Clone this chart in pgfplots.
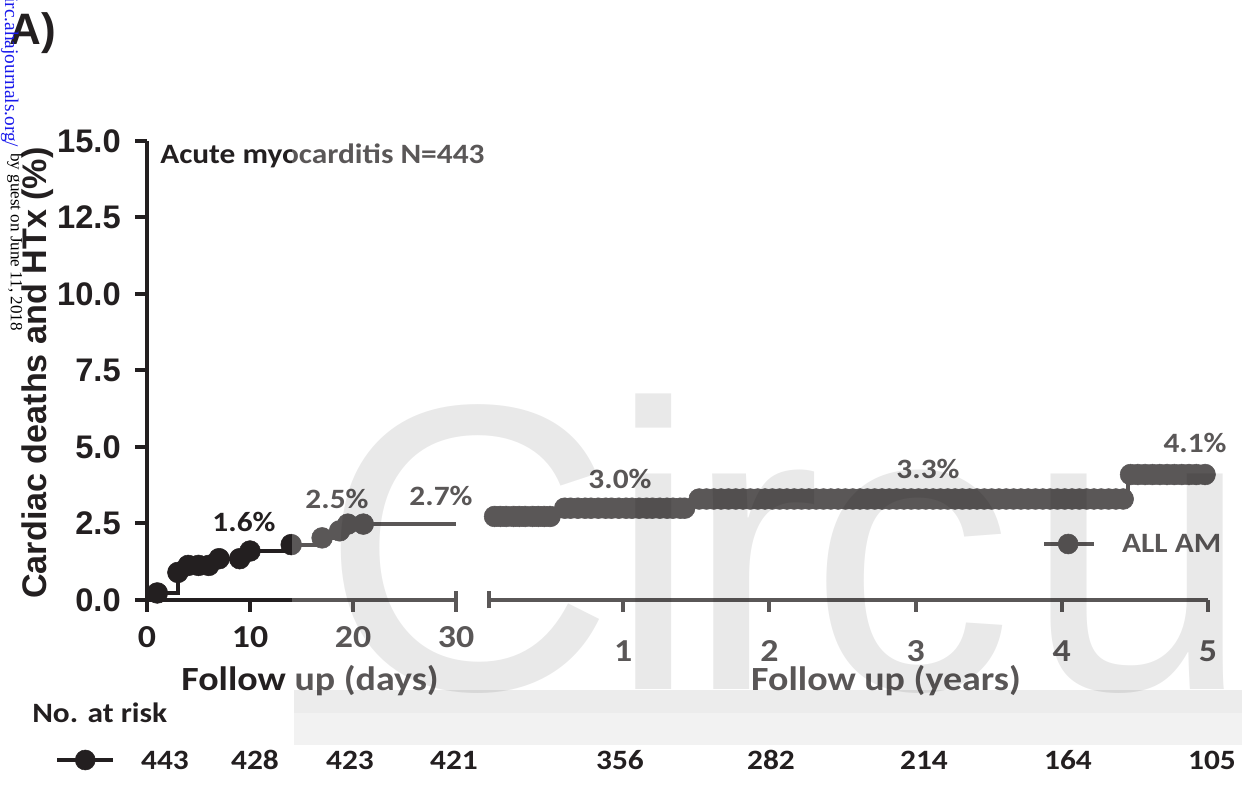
\documentclass[border=0pt]{standalone}
\usepackage{fontspec}
\usepackage{pgfplots}
\pgfplotsset{compat=1.18}
\setmainfont{Liberation Sans}
\newfontfamily\calX{Carlito}[FakeStretch=1.12]
\newfontfamily\arialN{Liberation Sans}
\newfontfamily\serifN{Liberation Serif}
\definecolor{ink}{RGB}{35,31,32}
\definecolor{linkblue}{RGB}{25,25,235}
\newcommand\fYT{\arialN\bfseries\fontsize{24.5}{29}\selectfont}
\newcommand\fYL{\arialN\bfseries\fontsize{25.6}{30}\selectfont}
\newcommand\fXT{\calX\bfseries\fontsize{24}{29}\selectfont}
\newcommand\fAT{\calX\bfseries\fontsize{25.4}{30}\selectfont}
\newcommand\fSm{\calX\bfseries\fontsize{21}{25}\selectfont}
\newcommand\fWM{\arialN\fontsize{306}{320}\selectfont}
\pgfplotsset{myax/.style={
  scale only axis, height=344.25pt, ymin=0, ymax=15, clip=false,
  axis line style={line width=3pt, draw=ink},
  tick style={line width=3pt, draw=ink},
  tick align=outside, major tick length=9pt,
  /pgf/number format/assume math mode=true,
  xticklabel style={font=\fXT, text=ink, inner sep=0pt, anchor=north},
  yticklabel style={font=\fYT, text=ink, inner sep=0pt, anchor=east},
}}
\begin{document}
\begin{tikzpicture}[x=0.75pt,y=0.75pt]
\useasboundingbox (0,0) rectangle (1242,787);
\begin{scope}
\clip (0,0) rectangle (1242,787);
% ---------- left panel (days)
\begin{axis}[myax, at={(110.25pt,140.25pt)}, anchor=south west, width=231.75pt,
  xmin=0, xmax=30,
  axis x line*=bottom, axis y line*=left,
  xtick={0,10,20,30}, xticklabels={0,10,20,30},
  ytick={0,2.5,5,7.5,10,12.5,15}, yticklabels={0.0,2.5,5.0,7.5,10.0,12.5,15.0},
  extra x ticks={30}, extra x tick labels={},
  extra x tick style={tick align=center, major tick length=12.75pt},
  xticklabel style={yshift=-10.5pt},
  yticklabel style={xshift=-10.5pt},
  legend image code/.code={\draw[line width=3pt,#1] (0pt,0pt) -- (42pt,0pt); \fill[#1] (21pt,0pt) circle (7.5pt);},
  legend style={at={(-0.2977,-0.3486)}, anchor=west, draw=none, fill=none, inner sep=0pt, nodes={inner sep=0pt}},
]
\addlegendimage{ink}
\addlegendentry{}
\addplot[const plot, draw=ink, line width=3pt] coordinates {
 (0,0) (1,0.23) (3,0.90) (4,1.13) (7,1.35) (10,1.60) (14,1.81) (17,2.03) (18.7,2.26) (19.5,2.48) (30,2.48)};
\addplot[only marks, mark=*, mark size=7.8pt, color=ink, fill=ink] coordinates {
 (1,0.23) (3,0.90) (4,1.13) (5,1.13) (6,1.13) (7,1.35) (9,1.35) (10,1.60) (14,1.81) (17,2.03) (18.7,2.26) (19.5,2.48) (21,2.48)};
\end{axis}
% ---------- right panel (years)
\begin{axis}[myax, at={(366.75pt,140.25pt)}, anchor=south west, width=539.25pt,
  xmin=0.0822, xmax=5,
  axis x line*=bottom, axis y line=none, ytick=\empty,
  xtick={1,2,3,4,5}, xticklabels={1,2,3,4,5},
  extra x ticks={0.0822}, extra x tick labels={},
  extra x tick style={tick align=center, major tick length=12.75pt},
  xticklabel style={yshift=-21pt},
  legend image code/.code={\draw[line width=3pt,#1] (0pt,0pt) -- (37.5pt,0pt); \fill[#1] (18pt,0pt) circle (7.5pt);},
  legend style={at={(0.769,0.122)}, anchor=west, draw=none, fill=none, inner sep=0pt, nodes={inner sep=0pt}, font=\fSm, text=ink},
]
\addlegendimage{ink}
\addlegendentry{\hspace*{19.5pt}ALL AM}
\addplot[const plot, draw=ink, line width=3pt] coordinates {
 (0.116,2.73) (0.568,3.0) (1.48,3.3) (4.45,4.1) (4.98,4.1)};
\addplot[only marks, mark=*, mark size=7.8pt, color=ink, fill=ink] coordinates {
 (0.12,2.73) (0.16,2.73) (0.20,2.73) (0.25,2.73) (0.29,2.73) (0.33,2.73) (0.38,2.73) (0.42,2.73) (0.46,2.73) (0.50,2.73)
 (0.60,3.0) (0.64,3.0) (0.69,3.0) (0.74,3.0) (0.78,3.0) (0.83,3.0) (0.88,3.0) (0.92,3.0) (0.97,3.0) (1.02,3.0)
 (1.06,3.0) (1.11,3.0) (1.16,3.0) (1.20,3.0) (1.25,3.0) (1.30,3.0) (1.34,3.0) (1.39,3.0) (1.42,3.0)
 (1.52,3.3) (1.57,3.3) (1.62,3.3) (1.67,3.3) (1.72,3.3) (1.77,3.3) (1.82,3.3) (1.87,3.3) (1.92,3.3) (1.97,3.3)
 (2.02,3.3) (2.07,3.3) (2.12,3.3) (2.17,3.3) (2.22,3.3) (2.27,3.3) (2.32,3.3) (2.37,3.3) (2.42,3.3) (2.47,3.3)
 (2.52,3.3) (2.57,3.3) (2.62,3.3) (2.67,3.3) (2.72,3.3) (2.77,3.3) (2.82,3.3) (2.87,3.3) (2.92,3.3) (2.97,3.3)
 (3.02,3.3) (3.07,3.3) (3.12,3.3) (3.17,3.3) (3.22,3.3) (3.27,3.3) (3.32,3.3) (3.37,3.3) (3.42,3.3) (3.47,3.3)
 (3.52,3.3) (3.57,3.3) (3.62,3.3) (3.67,3.3) (3.72,3.3) (3.77,3.3) (3.82,3.3) (3.87,3.3) (3.92,3.3) (3.97,3.3)
 (4.02,3.3) (4.07,3.3) (4.12,3.3) (4.17,3.3) (4.22,3.3) (4.27,3.3) (4.32,3.3) (4.37,3.3) (4.42,3.3)
 (4.47,4.1) (4.52,4.1) (4.57,4.1) (4.62,4.1) (4.67,4.1) (4.72,4.1) (4.77,4.1) (4.82,4.1) (4.87,4.1) (4.92,4.1) (4.98,4.1)};
\end{axis}
% ---------- texts
\node[font=\fSm, text=ink, anchor=base west, inner sep=0pt] at (160,623) {Acute myocarditis N=443};
\node[font=\fSm, text=ink, inner sep=0pt] at (244,265) {1.6\%};
\node[font=\fSm, text=ink, inner sep=0pt] at (337,288) {2.5\%};
\node[font=\fSm, text=ink, inner sep=0pt] at (441,291) {2.7\%};
\node[font=\fSm, text=ink, inner sep=0pt] at (620,308) {3.0\%};
\node[font=\fSm, text=ink, inner sep=0pt] at (928,318) {3.3\%};
\node[font=\fSm, text=ink, inner sep=0pt] at (1195,344) {4.1\%};
\node[font=\fAT, text=ink, anchor=base, inner sep=0pt] at (310,96) {Follow up (days)};
\node[font=\fAT, text=ink, anchor=base, inner sep=0pt] at (886,96) {Follow up (years)};
\node[font=\arialN\bfseries\fontsize{33}{38}\selectfont, text=ink, anchor=base west, inner sep=0pt] at (9,742) {A)};
\node[font=\fYL, text=ink, rotate=90, anchor=base, inner sep=0pt] at (46,414) {Cardiac deaths and HTx (\%)};
% ---------- watermark
\fill[white, opacity=0.25] (292,40) rectangle (1242,787);
\begin{scope}[opacity=0.085]
\node[font=\fWM, text=black, anchor=base west, inner sep=0pt] at (320,97) {C};
\node[font=\fWM, text=black, anchor=base west, inner sep=0pt] at (608,97) {i};
\node[font=\fWM, text=black, anchor=base west, inner sep=0pt] at (685,97) {r};
\node[font=\fWM, text=black, anchor=base west, inner sep=0pt] at (809,97) {c};
\node[font=\fWM, text=black, anchor=base west, inner sep=0pt] at (1024,97) {u};
\end{scope}
\fill[black, opacity=0.075] (294,74) rectangle (1242,97);
\fill[black, opacity=0.05] (294,42) rectangle (1242,74);
% ---------- numbers at risk
\node[font=\fSm, text=ink, anchor=west, inner sep=0pt] at (32,74) {No. at risk};
\foreach \xx/\nn in {165/443,255/428,350/423,454/421,620/356,771/282,924/214,1068/164,1212/105}
  \node[font=\fSm, text=ink, inner sep=0pt] at (\xx,27) {\nn};
% ---------- side text
\node[font=\serifN\fontsize{14.5}{17}\selectfont, text=linkblue, rotate=-90, anchor=base west, inner sep=0pt] at (5,790) {irc.ahajournals.org/};
\node[font=\serifN\fontsize{12.8}{15}\selectfont, text=black, rotate=-90, anchor=base west, inner sep=0pt] at (11,634) {by guest on June 11, 2018};
\end{scope}
\end{tikzpicture}
\end{document}
